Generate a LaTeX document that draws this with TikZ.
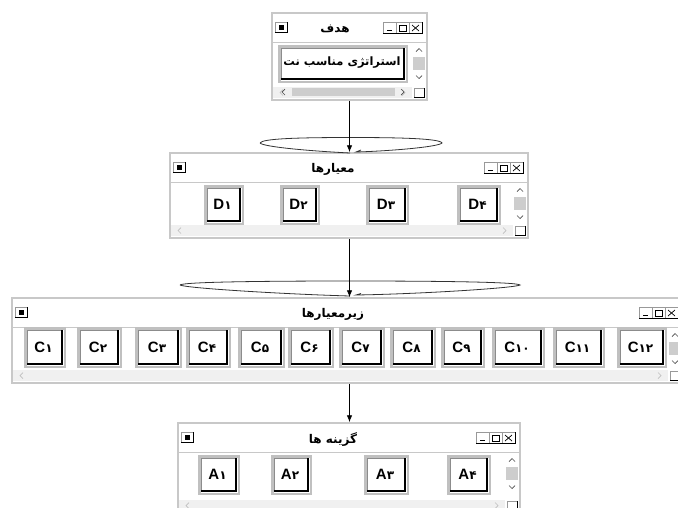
\documentclass[tikz,border=0pt]{standalone}
\usepackage{fontspec}
\setmainfont{Liberation Sans}
\newfontfamily\fa[Script=Arabic]{DejaVu Sans}
\newfontfamily\fadig{DejaVu Sans}
\TeXXeTstate=1
\usetikzlibrary{arrows.meta}
\definecolor{wgray}{HTML}{C8C8C8}
\definecolor{bgray}{HTML}{C0C0C0}
\definecolor{strip}{HTML}{F0F0F0}
\definecolor{thumb}{HTML}{CDCDCD}
\tikzset{
  winbox/.style={draw=wgray,line width=1.5pt,fill=white,rectangle,inner sep=0pt},
  ttl/.style={font=\fa\bfseries\fontsize{12}{14}\selectfont,inner sep=0pt},
  btxt/.style={font=\bfseries\fontsize{15}{17}\selectfont,inner sep=0pt},
  ptxt/.style={font=\fa\bfseries\fontsize{11.5}{13}\selectfont,inner sep=0pt},
  sepl/.style={draw=wgray,line width=1pt},
  chev/.style={draw=black!70,line width=.7pt},
  chevl/.style={draw=black!25,line width=.7pt},
  arr/.style={draw=black,line width=.8pt,-{Latex[length=7pt,width=5.5pt]}},
  ell/.style={draw=black!80,line width=.8pt}
}
\newcommand\dg[2]{#1{\fadig\bfseries\fontsize{12}{14}\selectfont #2}}
\newcommand\btn[6]{%
  \fill[bgray] (#2,#3) rectangle (#4,#5);
  \fill[white] ({#2+2.5},{#3+2.5}) rectangle ({#4-2.5},{#5-2.5});
  \draw[black,line width=2.6pt] ({#2+3},{#5-4}) -- ({#4-4},{#5-4}) -- ({#4-4},{#3+3});
  \draw[black!45,line width=.6pt] ({#2+3.3},{#5-5.5}) -- ({#2+3.3},{#3+3.3}) -- ({#4-5.5},{#3+3.3});
  \node[btxt] (#1) at ({(#2+#4)/2-1.5},{(#3+#5)/2-0.5}) {#6};
}
\newcommand\ctrlbox[2]{% x y
  \draw[black!40,line width=.6pt] (#1,#2) rectangle ({#1+13},{#2+11});
  \draw[black,line width=.9pt] (#1,{#2+11}) -- ({#1+13},{#2+11}) -- ({#1+13},#2);
}
\newcommand\winframe[7]{% name x1 y1 x2 y2 titlex title
  \node[winbox,minimum width={#4-#2},minimum height={#5-#3}] (#1) at ({(#2+#4)/2},{(#3+#5)/2}) {};
  % icon
  \draw[black!40,line width=.6pt] ({#2+3},{#3+9}) rectangle ({#2+15},{#3+19});
  \draw[black,line width=.9pt] ({#2+3},{#3+19}) -- ({#2+15},{#3+19}) -- ({#2+15},{#3+9});
  \fill[black] ({#2+6.5},{#3+12}) rectangle ({#2+11.5},{#3+16.5});
  % controls
  \ctrlbox{#4-44}{#3+9}
  \ctrlbox{#4-31}{#3+9}
  \ctrlbox{#4-18}{#3+9}
  \draw[black,line width=.8pt] ({#4-40},{#3+17}) -- ({#4-35},{#3+17});
  \draw[black,line width=.7pt] ({#4-28},{#3+12}) rectangle ({#4-21},{#3+18});
  \draw[black,line width=.7pt] ({#4-15},{#3+12}) -- ({#4-8},{#3+18}) ({#4-15},{#3+18}) -- ({#4-8},{#3+12});
  \node[ttl] (#1t) at (#6,{#3+16}) {#7};
  % separator
  \draw[sepl] (#2,{#3+29}) -- (#4,{#3+29});
  % right scrollbar
  \fill[thumb] ({#4-14},{#3+44}) rectangle ({#4-2},{#3+57});
  \draw[chev] ({#4-11},{#3+38.5}) -- ({#4-8},{#3+35.5}) -- ({#4-5},{#3+38.5});
  \draw[chev] ({#4-11},{#3+62.5}) -- ({#4-8},{#3+65.5}) -- ({#4-5},{#3+62.5});
  % bottom strip
  \fill[strip] ({#2+1},{#5-13}) rectangle ({#4-15},{#5-2});
  \draw[chevl] ({#2+11},{#5-10.5}) -- ({#2+8},{#5-7.5}) -- ({#2+11},{#5-4.5});
  \draw[chevl] ({#4-25},{#5-10.5}) -- ({#4-22},{#5-7.5}) -- ({#4-25},{#5-4.5});
  \draw[black!40,line width=.6pt] ({#4-13},{#5-12}) rectangle ({#4-3},{#5-3});
  \draw[black,line width=.9pt] ({#4-13},{#5-3}) -- ({#4-3},{#5-3}) -- ({#4-3},{#5-12});
}
\begin{document}
\begin{tikzpicture}[x=1pt,y=-1pt]
\clip (0,0) rectangle (678,507);
\fill[white] (0,0) rectangle (678,507);

% window 1
\winframe{w1}{272}{13}{427}{100}{335}{\beginR هدف\endR}
\fill[thumb] (292,88) rectangle (395,96);
\draw[chev] (285,89) -- (282,92) -- (285,95);
\draw[chev] (401,89) -- (404,92) -- (401,95);
\btn{b0}{278}{45}{408}{83}{}
\node[ptxt] (goal) at (342,63) {\beginR استراتژی مناسب نت\endR};

% window 2
\winframe{w2}{170}{153}{528}{238}{333}{\beginR معیارها\endR}
\btn{d1}{204}{185}{244}{225}{\dg{D}{۱}}
\btn{d2}{280}{185}{320}{225}{\dg{D}{۲}}
\btn{d3}{366}{185}{409}{225}{\dg{D}{۳}}
\btn{d4}{457}{185}{501}{225}{\dg{D}{۴}}

% window 3
\winframe{w3}{12}{298}{683}{383}{333}{\beginR زیرمعیارها\endR}
\btn{c1}{24}{327}{66}{368}{\dg{C}{۱}}
\btn{c2}{77}{327}{122}{368}{\dg{C}{۲}}
\btn{c3}{135}{327}{182}{368}{\dg{C}{۳}}
\btn{c4}{186}{327}{231}{368}{\dg{C}{۴}}
\btn{c5}{238}{327}{285}{368}{\dg{C}{۵}}
\btn{c6}{288}{327}{334}{368}{\dg{C}{۶}}
\btn{c7}{339}{327}{385}{368}{\dg{C}{۷}}
\btn{c8}{390}{327}{436}{368}{\dg{C}{۸}}
\btn{c9}{441}{327}{485}{368}{\dg{C}{۹}}
\btn{c10}{492}{327}{545}{368}{\dg{C}{۱۰}}
\btn{c11}{553}{327}{605}{368}{\dg{C}{۱۱}}
\btn{c12}{617}{327}{667}{368}{\dg{C}{۱۲}}

% window 4
\winframe{w4}{178}{423}{520}{513}{333}{\beginR گزینه ها\endR}
\btn{a1}{198}{455}{240}{495}{\dg{A}{۱}}
\btn{a2}{271}{455}{312}{495}{\dg{A}{۲}}
\btn{a3}{364}{455}{409}{495}{\dg{A}{۳}}
\btn{a4}{447}{455}{491}{495}{\dg{A}{۴}}

% lens shapes
\draw[ell] (260,143) .. controls (262,138.5) and (300,137.5) .. (351,137.5)
  .. controls (400,137.5) and (440,138.5) .. (442,143)
  .. controls (438,147) and (390,151) .. (356,152) -- (361,150);
\draw[ell] (260,143) .. controls (264,147) and (310,151) .. (350,153);
\draw[ell] (180,285) .. controls (183,282) and (260,281) .. (351,281)
  .. controls (440,281) and (517,282) .. (520,285)
  .. controls (515,288) and (420,294) .. (356,295) -- (361,293.5);
\draw[ell] (180,285) .. controls (185,288) and (280,294) .. (350,296);

% connectors
\draw[arr] (w1.south) -- (w1.south |- w2.north);
\draw[arr] (w2.south -| w1.south) -- (w1.south |- w3.north);
\draw[arr] (w3.south -| w1.south) -- (w1.south |- w4.north);
\end{tikzpicture}
\end{document}
